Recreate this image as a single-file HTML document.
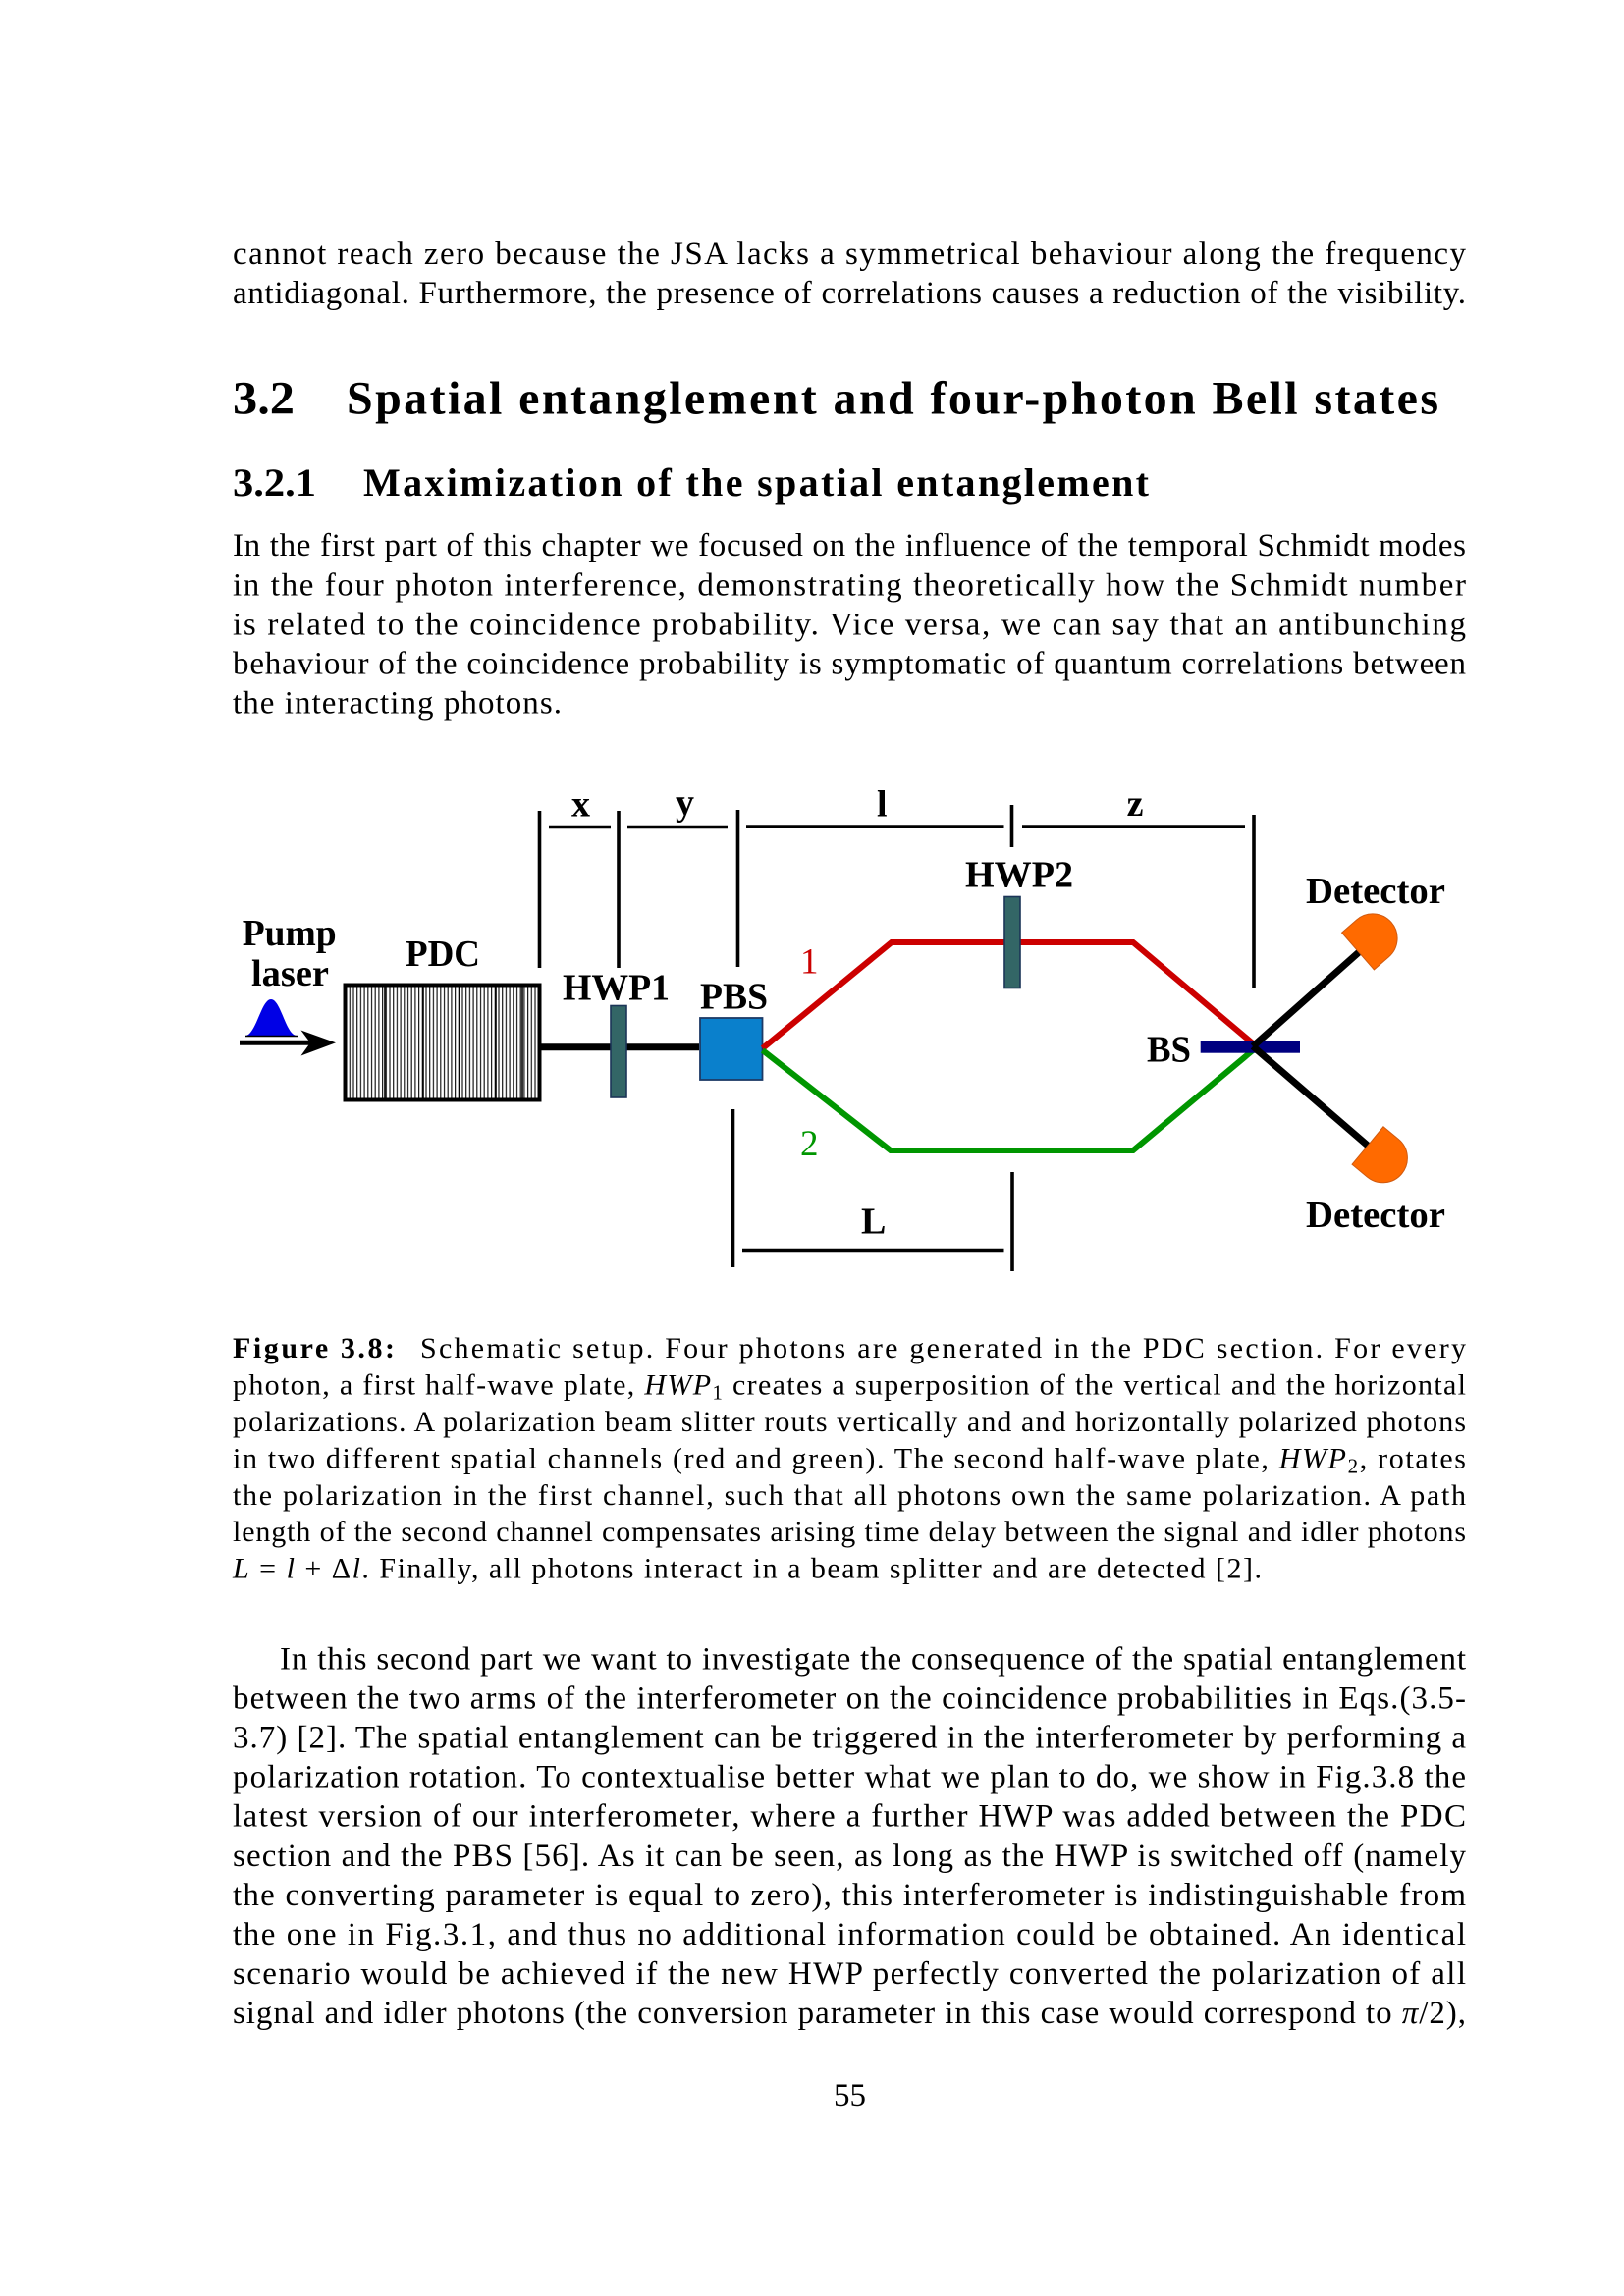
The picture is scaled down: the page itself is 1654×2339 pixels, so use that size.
<!DOCTYPE html>
<html>
<head>
<meta charset="utf-8">
<style>
  html, body { margin:0; padding:0; background:#fff; }
  body { width:1654px; height:2339px; overflow:hidden; }
  svg { display:block; }
  .t { font-family: "Liberation Serif", "DejaVu Serif", serif; font-size:33px; fill:#000; }
  .c { font-family: "Liberation Serif", "DejaVu Serif", serif; font-size:30px; fill:#000; }
  .d { font-family: "Liberation Serif", "DejaVu Serif", serif; font-size:38px; font-weight:bold; fill:#000; }
</style>
</head>
<body>
<svg width="1654" height="2339" viewBox="0 0 1654 2339" xmlns="http://www.w3.org/2000/svg">
  <defs>
    <pattern id="stripes" x="352" y="0" width="3.7" height="50" patternUnits="userSpaceOnUse">
      <rect x="0" y="0" width="1.2" height="50" fill="#1a1a1a"/>
    </pattern>
  </defs>
  <rect x="0" y="0" width="1654" height="2339" fill="#fff"/>

  <!-- Top text -->
  <text class="t" x="237" y="269" textLength="1256" lengthAdjust="spacing">cannot reach zero because the JSA lacks a symmetrical behaviour along the frequency</text>
  <text class="t" x="237" y="309" textLength="1256" lengthAdjust="spacing">antidiagonal. Furthermore, the presence of correlations causes a reduction of the visibility.</text>

  <!-- Headings -->
  <text class="t" x="237" y="421.5" style="font-size:48px;font-weight:bold" textLength="63" lengthAdjust="spacingAndGlyphs">3.2</text>
  <text class="t" x="353" y="421.5" style="font-size:48px;font-weight:bold" textLength="1112" lengthAdjust="spacing">Spatial entanglement and four-photon Bell states</text>
  <text class="t" x="237" y="505" style="font-size:40px;font-weight:bold" textLength="85" lengthAdjust="spacingAndGlyphs">3.2.1</text>
  <text class="t" x="370" y="505" style="font-size:40px;font-weight:bold" textLength="800" lengthAdjust="spacing">Maximization of the spatial entanglement</text>

  <!-- Paragraph 1 -->
  <text class="t" x="237" y="566" textLength="1256" lengthAdjust="spacing">In the first part of this chapter we focused on the influence of the temporal Schmidt modes</text>
  <text class="t" x="237" y="606.5" textLength="1256" lengthAdjust="spacing">in the four photon interference, demonstrating theoretically how the Schmidt number</text>
  <text class="t" x="237" y="646.5" textLength="1256" lengthAdjust="spacing">is related to the coincidence probability.  Vice versa, we can say that an antibunching</text>
  <text class="t" x="237" y="686.5" textLength="1256" lengthAdjust="spacing">behaviour of the coincidence probability is symptomatic of quantum correlations between</text>
  <text class="t" x="237" y="726.5" textLength="335" lengthAdjust="spacing">the interacting photons.</text>

  <!-- ================= DIAGRAM ================= -->
  <!-- dimension lines -->
  <g stroke="#000" stroke-width="3.6" fill="none">
    <line x1="549.5" y1="826" x2="549.5" y2="986"/>
    <line x1="630" y1="826" x2="630" y2="986"/>
    <line x1="751.5" y1="825" x2="751.5" y2="985"/>
    <line x1="559" y1="842.5" x2="622" y2="842.5"/>
    <line x1="639" y1="842.5" x2="741" y2="842.5"/>
    <line x1="760" y1="842" x2="1022.5" y2="842"/>
    <line x1="1030.5" y1="820" x2="1030.5" y2="863"/>
    <line x1="1041" y1="842" x2="1268" y2="842"/>
    <line x1="1277" y1="830" x2="1277" y2="1006"/>
    <line x1="746.5" y1="1130" x2="746.5" y2="1291"/>
    <line x1="756" y1="1273.5" x2="1022.5" y2="1273.5"/>
    <line x1="1031" y1="1194" x2="1031" y2="1295"/>
  </g>

  <!-- dimension labels -->
  <text class="d" x="582" y="831.5">x</text>
  <text class="d" x="688" y="830">y</text>
  <text class="d" x="893" y="831.5">l</text>
  <text class="d" x="1156" y="831" text-anchor="middle">z</text>
  <text class="d" x="877" y="1256.5">L</text>

  <!-- Pump laser -->
  <text class="d" x="246.7" y="963" textLength="96" lengthAdjust="spacingAndGlyphs">Pump</text>
  <text class="d" x="256" y="1004" textLength="79" lengthAdjust="spacingAndGlyphs">laser</text>
  <path d="M250,1055 C261,1054 266,1018 276,1018 C286,1018 291,1054 302,1055 Z" fill="#0000e6"/>
  <line x1="250" y1="1055.5" x2="303" y2="1055.5" stroke="#000" stroke-width="1.6"/>
  <line x1="244" y1="1062.3" x2="318" y2="1062.3" stroke="#000" stroke-width="5"/>
  <polygon points="342,1062.3 306.5,1049.5 316,1062.3 306.5,1075.5" fill="#000"/>

  <!-- PDC -->
  <text class="d" x="413" y="984" textLength="76" lengthAdjust="spacingAndGlyphs">PDC</text>
  <rect x="351.5" y="1003.5" width="198" height="117" fill="#fff"/>
  <rect x="351.5" y="1003.5" width="198" height="117" fill="url(#stripes)"/>
  <g stroke="#000" stroke-width="1.6">
    <line x1="392" y1="1004" x2="392" y2="1120"/>
    <line x1="431" y1="1004" x2="431" y2="1120"/>
    <line x1="468" y1="1004" x2="468" y2="1120"/>
    <line x1="505" y1="1004" x2="505" y2="1120"/>
    <line x1="532" y1="1004" x2="532" y2="1120"/>
  </g>
  <rect x="351.5" y="1003.5" width="198" height="117" fill="none" stroke="#000" stroke-width="4"/>

  <!-- beam -->
  <line x1="551" y1="1066.7" x2="712" y2="1066.7" stroke="#000" stroke-width="7"/>

  <!-- HWP1 -->
  <text class="d" x="573" y="1018.3" textLength="109" lengthAdjust="spacingAndGlyphs">HWP1</text>
  <rect x="622" y="1024.5" width="16" height="93.5" fill="#336666" stroke="#1c3558" stroke-width="1.6"/>

  <!-- PBS -->
  <text class="d" x="713" y="1027.7" textLength="69" lengthAdjust="spacingAndGlyphs">PBS</text>
  <rect x="713" y="1037" width="63.5" height="63" fill="#0a80cc" stroke="#1d3a66" stroke-width="1.8"/>

  <!-- red and green paths -->
  <polyline points="776.7,1068 908,960 1154,960 1276,1063" fill="none" stroke="#cc0000" stroke-width="6" stroke-linejoin="miter"/>
  <polyline points="776.7,1070 907,1172 1154,1172 1276,1070" fill="none" stroke="#009600" stroke-width="6" stroke-linejoin="miter"/>
  <text x="815" y="991.7" style="font-family:'Liberation Serif',serif;font-size:37px;fill:#cc0000">1</text>
  <text x="815" y="1177" style="font-family:'Liberation Serif',serif;font-size:37px;fill:#009600">2</text>

  <!-- HWP2 -->
  <text class="d" x="983" y="903.5" textLength="110" lengthAdjust="spacingAndGlyphs">HWP2</text>
  <rect x="1023" y="913.5" width="16" height="93" fill="#336666" stroke="#1c3558" stroke-width="1.6"/>

  <!-- BS -->
  <rect x="1222.7" y="1060" width="101.3" height="12.7" fill="#000080"/>
  <line x1="1276" y1="1066" x2="1384" y2="970" stroke="#000" stroke-width="7"/>
  <line x1="1276" y1="1066" x2="1393" y2="1167" stroke="#000" stroke-width="7"/>
  <text class="d" x="1168" y="1081.7" textLength="45" lengthAdjust="spacingAndGlyphs">BS</text>

  <!-- Detectors -->
  <g transform="translate(1383,969) rotate(-41)">
    <path d="M0,-25 L20,-25 A25,25 0 0 1 20,25 L0,25 Z" fill="#ff6a00" stroke="#d05a10" stroke-width="1"/>
  </g>
  <g transform="translate(1393,1167) rotate(39.7)">
    <path d="M0,-25 L20,-25 A25,25 0 0 1 20,25 L0,25 Z" fill="#ff6a00" stroke="#d05a10" stroke-width="1"/>
  </g>
  <text class="d" x="1330" y="920" textLength="142" lengthAdjust="spacingAndGlyphs">Detector</text>
  <text class="d" x="1330" y="1250" textLength="142" lengthAdjust="spacingAndGlyphs">Detector</text>

  <!-- ================= CAPTION ================= -->
  <text class="c" x="237" y="1383" font-weight="bold" textLength="165" lengthAdjust="spacing">Figure 3.8:</text>
  <text class="c" x="428" y="1383" textLength="1065" lengthAdjust="spacing">Schematic setup.  Four photons are generated in the PDC section.  For every</text>
  <text class="c" x="237" y="1420.5" textLength="1256" lengthAdjust="spacing">photon, a first half-wave plate, <tspan font-style="italic">HWP</tspan><tspan font-size="21" dy="5">1</tspan><tspan dy="-5"> creates a superposition of the vertical and the horizontal</tspan></text>
  <text class="c" x="237" y="1458" textLength="1256" lengthAdjust="spacing">polarizations. A polarization beam slitter routs vertically and and horizontally polarized photons</text>
  <text class="c" x="237" y="1495.5" textLength="1256" lengthAdjust="spacing">in two different spatial channels (red and green). The second half-wave plate, <tspan font-style="italic">HWP</tspan><tspan font-size="21" dy="5">2</tspan><tspan dy="-5">, rotates</tspan></text>
  <text class="c" x="237" y="1533" textLength="1256" lengthAdjust="spacing">the polarization in the first channel, such that all photons own the same polarization.  A path</text>
  <text class="c" x="237" y="1570" textLength="1256" lengthAdjust="spacing">length of the second channel compensates arising time delay between the signal and idler photons</text>
  <text class="c" x="237" y="1607.5" textLength="1048" lengthAdjust="spacing"><tspan font-style="italic">L</tspan> = <tspan font-style="italic">l</tspan> + Δ<tspan font-style="italic">l</tspan>. Finally, all photons interact in a beam splitter and are detected [2].</text>

  <!-- ================= LOWER PARAGRAPH ================= -->
  <text class="t" x="285" y="1700.5" textLength="1208" lengthAdjust="spacing">In this second part we want to investigate the consequence of the spatial entanglement</text>
  <text class="t" x="237" y="1740.5" textLength="1256" lengthAdjust="spacing">between the two arms of the interferometer on the coincidence probabilities in Eqs.(3.5-</text>
  <text class="t" x="237" y="1780.6" textLength="1256" lengthAdjust="spacing">3.7) [2]. The spatial entanglement can be triggered in the interferometer by performing a</text>
  <text class="t" x="237" y="1820.7" textLength="1256" lengthAdjust="spacing">polarization rotation. To contextualise better what we plan to do, we show in Fig.3.8 the</text>
  <text class="t" x="237" y="1860.7" textLength="1256" lengthAdjust="spacing">latest version of our interferometer, where a further HWP was added between the PDC</text>
  <text class="t" x="237" y="1900.8" textLength="1256" lengthAdjust="spacing">section and the PBS [56]. As it can be seen, as long as the HWP is switched off (namely</text>
  <text class="t" x="237" y="1940.8" textLength="1256" lengthAdjust="spacing">the converting parameter is equal to zero), this interferometer is indistinguishable from</text>
  <text class="t" x="237" y="1980.9" textLength="1256" lengthAdjust="spacing">the one in Fig.3.1, and thus no additional information could be obtained. An identical</text>
  <text class="t" x="237" y="2020.9" textLength="1256" lengthAdjust="spacing">scenario would be achieved if the new HWP perfectly converted the polarization of all</text>
  <text class="t" x="237" y="2061" textLength="1256" lengthAdjust="spacing">signal and idler photons (the conversion parameter in this case would correspond to <tspan font-style="italic">π</tspan>/2),</text>

  <!-- page number -->
  <text class="t" x="865.5" y="2145" text-anchor="middle">55</text>
</svg>
</body>
</html>
